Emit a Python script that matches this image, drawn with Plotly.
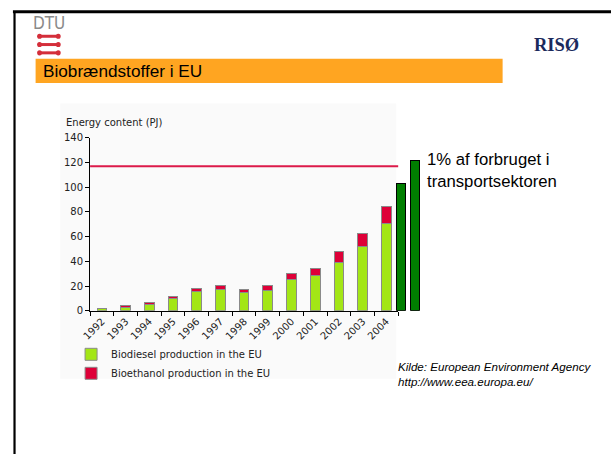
import plotly.graph_objects as go

W, H = 611, 459

years = ["1992", "1993", "1994", "1995", "1996", "1997", "1998",
         "1999", "2000", "2001", "2002", "2003", "2004"]
biodiesel = [2.2, 2.6, 5.5, 10.3, 15.5, 17.4, 14.7, 16.8, 25.0, 28.9, 38.9, 52.4, 70.8]
bioethanol = [0.0, 1.6, 1.6, 1.5, 2.9, 2.8, 2.9, 3.4, 5.0, 5.3, 9.0, 10.0, 13.4]
projection_labels = ["p1", "p2"]
projection_values = [102.9, 121.6]
target_value = 117.0
y_ticks = [0, 20, 40, 60, 80, 100, 120, 140]


def px(x):
    return x / W


def py(y):
    return 1 - y / H


GREEN = "#A3E616"
RED = "#DE0038"
DARK = "#007F00"
AXFONT = "Verdana, DejaVu Sans, sans-serif"

fig = go.Figure()
fig.add_trace(go.Bar(x=years, y=biodiesel, name="Biodiesel production in the EU",
                     marker=dict(color=GREEN, line=dict(color="#8a8a8a", width=1)),
                     width=0.41))
fig.add_trace(go.Bar(x=years, y=bioethanol, name="Bioethanol production in the EU",
                     marker=dict(color=RED, line=dict(color="#8a8a8a", width=1)),
                     width=0.41))
fig.add_trace(go.Bar(x=projection_labels, y=projection_values, xaxis="x2", yaxis="y",
                     marker=dict(color=DARK, line=dict(color="black", width=1.5)),
                     width=0.63, showlegend=False))

shapes = [
    dict(type="rect", xref="paper", yref="paper", x0=px(52), x1=px(393), y0=py(382), y1=py(100),
         fillcolor="#FAFAFA", line=dict(width=0), layer="below"),
    dict(type="rect", xref="paper", yref="paper", x0=px(27), x1=px(501), y0=py(79), y1=py(54),
         fillcolor="#FFA521", line=dict(width=0), layer="below"),
    dict(type="line", xref="paper", yref="paper", x0=px(4), x1=1, y0=py(5.8), y1=py(5.8),
         line=dict(color="black", width=3)),
    dict(type="line", xref="paper", yref="paper", x0=px(5.6), x1=px(5.6), y0=py(5), y1=0,
         line=dict(color="black", width=2.2)),
    dict(type="line", xref="x domain", yref="y", x0=0, x1=1, y0=target_value, y1=target_value,
         line=dict(color="#DC1A4A", width=2)),
]
for yy in (31, 39.5, 48):
    shapes.append(dict(type="line", xref="paper", yref="paper", x0=px(31), x1=px(50),
                       y0=py(yy), y1=py(yy), line=dict(color="#D42E3A", width=3)))
    for xx in (31, 50):
        shapes.append(dict(type="circle", xref="paper", yref="paper",
                           x0=px(xx - 2.5), x1=px(xx + 2.5), y0=py(yy + 2.6), y1=py(yy - 2.6),
                           fillcolor="#D42E3A", line=dict(width=0)))

annotations = [
    dict(text="DTU", x=px(40.5), y=py(17.5), xref="paper", yref="paper", showarrow=False,
         xanchor="center", yanchor="middle",
         font=dict(family="Liberation Sans Narrow, Arial Narrow, DejaVu Sans Condensed, sans-serif",
                   size=17, color="#8a8a8a")),
    dict(text="<b>RISØ</b>", x=px(581), y=py(39.5), xref="paper", yref="paper", showarrow=False,
         xanchor="right", yanchor="middle",
         font=dict(family="Liberation Serif, Times New Roman, serif", size=18.5, color="#1B2A5C")),
    dict(text="Biobrændstoffer i EU", x=px(32), y=py(67), xref="paper", yref="paper", showarrow=False,
         xanchor="left", yanchor="middle",
         font=dict(family="Liberation Sans, Arial, sans-serif", size=17.2, color="black")),
    dict(text="Energy content (PJ)", x=px(56), y=py(119), xref="paper", yref="paper", showarrow=False,
         xanchor="left", yanchor="middle", font=dict(family=AXFONT, size=10, color="#222")),
    dict(text="1% af forbruget i<br>transportsektoren", x=px(422), y=py(168.5), xref="paper", yref="paper",
         showarrow=False, xanchor="left", yanchor="middle", align="left",
         font=dict(family="Liberation Sans, Arial, sans-serif", size=16.7, color="black")),
    dict(text="<i>Kilde: European Environment Agency<br>http://www.eea.europa.eu/</i>",
         x=px(393), y=py(377.5), xref="paper", yref="paper", showarrow=False,
         xanchor="left", yanchor="middle", align="left",
         font=dict(family="Liberation Sans, Arial, sans-serif", size=11.6, color="black")),
]

fig.update_layout(
    width=W, height=H, autosize=False,
    margin=dict(l=0, r=0, t=0, b=0),
    paper_bgcolor="white", plot_bgcolor="rgba(0,0,0,0)",
    barmode="stack",
    showlegend=True,
    legend=dict(x=px(63), y=py(342), xanchor="left", yanchor="top", traceorder="normal",
                bgcolor="rgba(0,0,0,0)", font=dict(family=AXFONT, size=10, color="#222")),
    xaxis=dict(domain=[px(82.3), px(395)], type="category", range=[-0.5, 12.5],
               showline=True, linecolor="black", linewidth=1, ticks="outside", ticklen=4,
               tickcolor="black", tickson="boundaries", tickangle=-45, showgrid=False,
               tickfont=dict(family=AXFONT, size=10, color="#222"), anchor="y", fixedrange=True),
    xaxis2=dict(domain=[px(390.7), px(419.1)], type="category", range=[-0.5, 1.5],
                anchor="y", visible=False, showgrid=False, fixedrange=True),
    yaxis=dict(domain=[py(312.3), py(135)], range=[0, 140], tickvals=y_ticks,
               showline=True, linecolor="black", linewidth=1, ticks="outside", ticklen=4,
               tickcolor="black", showgrid=False, zeroline=False,
               tickfont=dict(family=AXFONT, size=10, color="#222"), anchor="x", fixedrange=True),
    shapes=shapes,
    annotations=annotations,
)

fig.write_html("out.html", config={"displayModeBar": False},
               post_script=("document.documentElement.style.margin='0';"
                            "document.documentElement.style.overflow='hidden';"
                            "document.body.style.margin='0';document.body.style.padding='0';"
                            "document.body.style.overflow='hidden';"))
